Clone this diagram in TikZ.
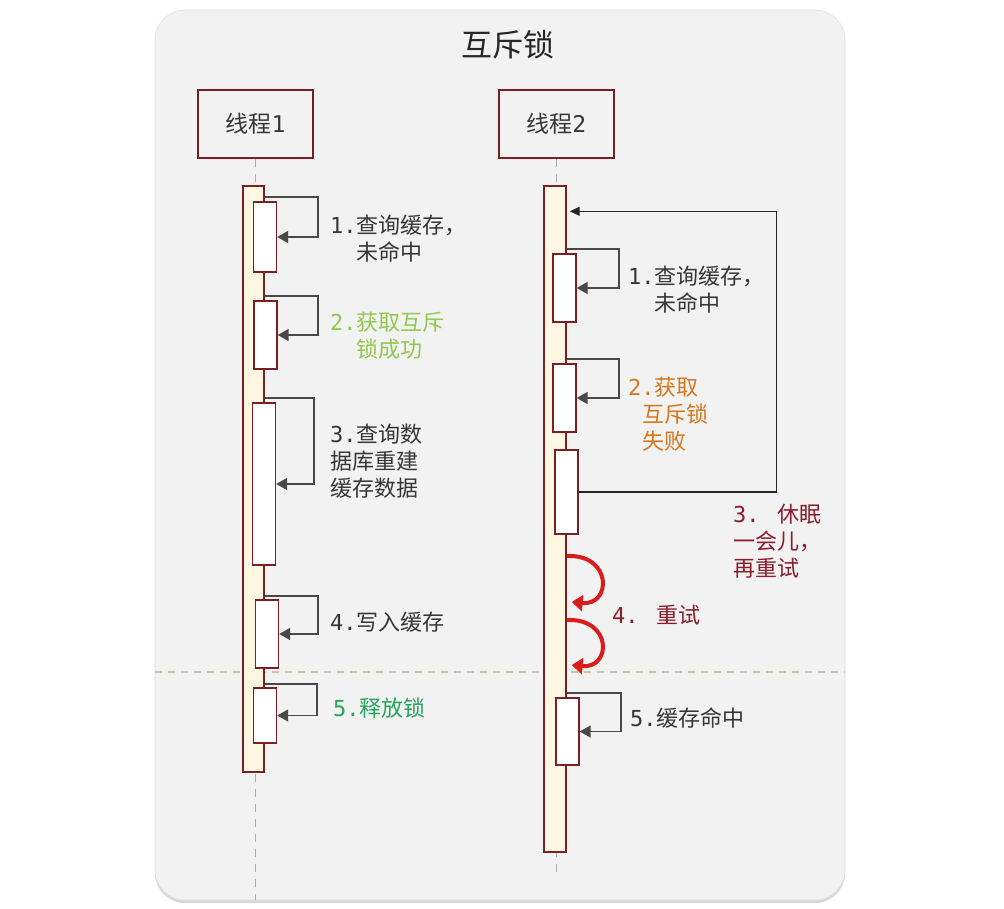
\documentclass[tikz,border=0pt]{standalone}
\usepackage{fontspec}
\setmainfont{Noto Sans CJK SC}
\newfontfamily\stepfont{DejaVu Sans Mono}
\usetikzlibrary{arrows.meta,positioning,shadows}

\definecolor{panelgray}{HTML}{F2F2F2}
\definecolor{boxred}{HTML}{7B1F24}
\definecolor{barfill}{HTML}{FDF7E2}
\definecolor{arrowgray}{HTML}{484848}
\definecolor{textgray}{HTML}{363636}
\definecolor{okgreen}{HTML}{92C84E}
\definecolor{freegreen}{HTML}{24A45C}
\definecolor{failorange}{HTML}{D8761E}
\definecolor{sleepred}{HTML}{8A1C2C}
\definecolor{retryred}{HTML}{D91C1C}
\definecolor{splitline}{HTML}{C9C5A2}
\definecolor{lifegray}{HTML}{ABABAB}

\begin{document}
\begin{tikzpicture}[
  x=1pt, y=-1pt,
  every node/.style={font=\fontsize{22}{27}\selectfont, text=textgray},
  panel/.style={rectangle, rounded corners=30pt, fill=panelgray, draw=black!12, line width=0.6pt, minimum width=690pt, minimum height=890pt,
    drop shadow={shadow xshift=0pt, shadow yshift=-3pt, opacity=0.3}},
  thread/.style={rectangle, draw=boxred, line width=1.8pt, fill=panelgray, minimum width=115pt, minimum height=68pt, font=\fontsize{23}{27}\selectfont},
  lifebar/.style={rectangle, draw=boxred, line width=1.4pt, fill=barfill, inner sep=0pt},
  act/.style={rectangle, draw=boxred, line width=1.4pt, fill=white, minimum width=23pt, inner sep=0pt},
  life/.style={draw=lifegray, line width=1.3pt, dash pattern=on 8pt off 7pt},
  selfcall/.style={draw=arrowgray, line width=1.8pt, -{Triangle[length=11pt, width=12pt]}},
  loopback/.style={draw=black!85, line width=1.1pt, -{Triangle[length=10pt, width=9pt]}},
  retry/.style={draw=retryred, line width=4pt, -{Triangle[length=11pt, width=16pt]}},
  note/.style={inner sep=0pt, align=left, anchor=west}
]
\useasboundingbox (0,0) rectangle (1004,908);
\fill[white] (0,0) rectangle (1004,908);

\node[panel] (panel) at (500,455) {};
\node[font=\fontsize{31}{36}\selectfont, text=black!85] (title) at (508,45) {互斥锁};

\node[thread] (thread1) at (255.5,124) {线程{\stepfont 1}};
\node[thread, right=184pt of thread1] (thread2) {线程{\stepfont 2}};

% lifelines
\draw[life] (thread1.south) -- (thread1.south |- 0,900);
\draw[life] (thread2.south) -- (thread2.south |- 0,875);
\draw[splitline, line width=1.2pt, dash pattern=on 7pt off 6pt] (panel.west |- 0,672) -- (panel.east |- 0,672);

% thread 1
\node[lifebar, minimum width=21pt, minimum height=586pt] (bar1) at (253.5,479) {};
\node[act, minimum height=70pt] (t1a) at (265,237) {};
\node[act, minimum height=68pt] (t1b) at (265.5,335) {};
\node[act, minimum height=162pt] (t1c) at (264,484) {};
\node[act, minimum height=68pt] (t1d) at (267,634) {};
\node[act, minimum height=55pt] (t1e) at (265,715.5) {};

% thread 2
\node[lifebar, minimum width=22pt, minimum height=666pt] (bar2) at (555,519) {};
\node[act, minimum height=68pt] (t2a) at (564.5,288) {};
\node[act, minimum height=68pt] (t2b) at (564.5,398) {};
\node[act, minimum height=84pt] (t2c) at (566.5,492) {};
\node[act, minimum height=67pt] (t2d) at (567.5,731.5) {};

% Arrows
\draw[selfcall] (t1a.north -| bar1.east) ++(0,-4) -- ++(53,0) |- (t1a.east);
\draw[selfcall] (t1b.north -| bar1.east) ++(0,-4) -- ++(53,0) |- (t1b.east);
\draw[selfcall] (t1c.north -| bar1.east) ++(0,-4) -- ++(49,0) |- (t1c.east);
\draw[selfcall] (t1d.north -| bar1.east) ++(0,-3) -- ++(53,0) |- (t1d.east);
\draw[selfcall] (t1e.north -| bar1.east) ++(0,-3) -- ++(52,0) |- (t1e.east);

\draw[selfcall] (t2a.north -| bar2.east) ++(0,-4) -- ++(52,0) |- (t2a.east);
\draw[selfcall] (t2b.north -| bar2.east) ++(0,-4) -- ++(52,0) |- (t2b.east);
\draw[selfcall] (t2d.north -| bar2.east) ++(0,-4) -- ++(54,0) |- (t2d.east);

\draw[loopback] (t2c.east) -- ++(198,0) |- ([xshift=3pt, yshift=-26pt]bar2.north east);

\draw[retry] ([yshift=-37pt]bar2.east) .. controls +(46,-2) and +(40,4) .. ([xshift=5pt, yshift=-83pt]bar2.east);
\draw[retry] ([yshift=-101pt]bar2.east) .. controls +(46,-2) and +(40,4) .. ([xshift=5pt, yshift=-146pt]bar2.east);

% labels
\node[note] (l1a) at (330,239) {{\stepfont 1.}查询缓存，\\\phantom{\stepfont 1.}未命中};
\node[note, text=okgreen] (l1b) at (330,336) {{\stepfont 2.}获取互斥\\\phantom{\stepfont 2.}锁成功};
\node[note] (l1c) at (330,461) {{\stepfont 3.}查询数\\据库重建\\缓存数据};
\node[note] (l1d) at (330,622) {{\stepfont 4.}写入缓存};
\node[note, text=freegreen] (l1e) at (333,708) {{\stepfont 5.}释放锁};

\node[note] (l2a) at (628,290) {{\stepfont 1.}查询缓存，\\\phantom{\stepfont 1.}未命中};
\node[note, text=failorange] (l2b) at (628,414) {{\stepfont 2.}获取\\\hspace*{14pt}互斥锁\\\hspace*{14pt}失败};
\node[note, text=sleepred] (l2c) at (733,541) {{\stepfont 3. }休眠\\一会儿，\\再重试};
\node[note, text=sleepred] (l2d) at (612,615) {{\stepfont 4. }重试};
\node[note] (l2e) at (630,718) {{\stepfont 5.}缓存命中};

\end{tikzpicture}
\end{document}
